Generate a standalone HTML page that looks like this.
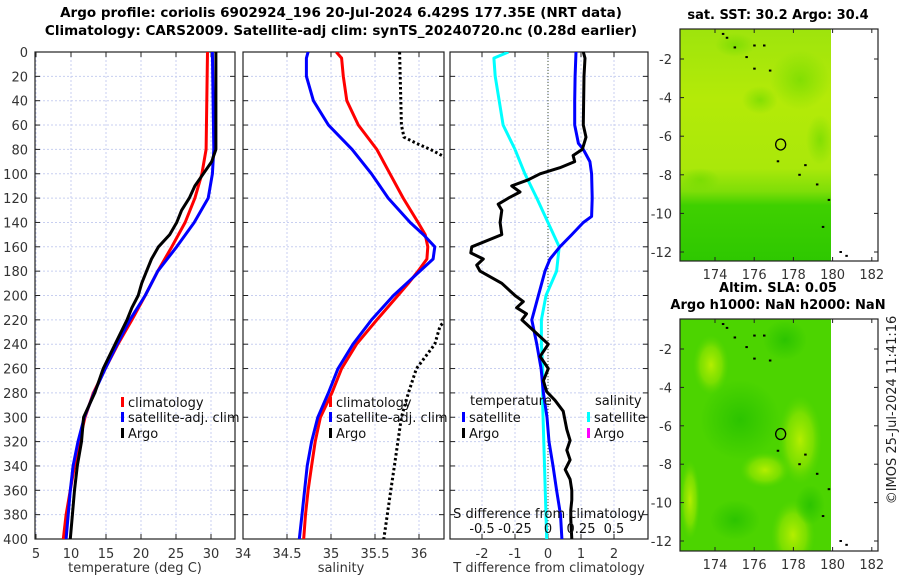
<!DOCTYPE html>
<html><head><meta charset="utf-8"><style>
body{margin:0;background:#fff}
svg{display:block;font-family:"DejaVu Sans","Liberation Sans",sans-serif}
</style></head><body>
<svg id="c" width="900" height="580" viewBox="0 0 900 580">
<defs>
<clipPath id="cp1"><rect x="35" y="52" width="200" height="487"/></clipPath>
<clipPath id="cp2"><rect x="243" y="52" width="201" height="487"/></clipPath>
<clipPath id="cp3"><rect x="450" y="52" width="198" height="487"/></clipPath>
<clipPath id="cm1"><rect x="680" y="29" width="151" height="232"/></clipPath>
<clipPath id="cm2"><rect x="680" y="319" width="151" height="232"/></clipPath>
<linearGradient id="sstg" x1="0" y1="0" x2="0" y2="1">
<stop offset="0" stop-color="#9ee40c"/><stop offset="0.3" stop-color="#b4ea08"/><stop offset="0.6" stop-color="#aae80a"/><stop offset="0.7" stop-color="#7ede08"/><stop offset="0.76" stop-color="#3fd000"/><stop offset="1" stop-color="#2ec800"/>
</linearGradient>
<radialGradient id="blob"><stop offset="0" stop-color="#b4ee00"/><stop offset="0.6" stop-color="#86e200" stop-opacity="0.8"/><stop offset="1" stop-color="#5ad800" stop-opacity="0"/></radialGradient>
<radialGradient id="blobd"><stop offset="0" stop-color="#2cc400"/><stop offset="1" stop-color="#2cc400" stop-opacity="0"/></radialGradient>
<radialGradient id="blobg"><stop offset="0" stop-color="#70da00" stop-opacity="0.7"/><stop offset="1" stop-color="#70da00" stop-opacity="0"/></radialGradient>
</defs>
<text x="341" y="17" text-anchor="middle" font-size="13.5" font-weight="bold">Argo profile: coriolis 6902924_196 20-Jul-2024 6.429S 177.35E (NRT data)</text>
<text x="341" y="35" text-anchor="middle" font-size="13.5" font-weight="bold">Climatology: CARS2009. Satellite-adj clim: synTS_20240720.nc (0.28d earlier)</text>
<g id="g"></g>
</svg>
<script>
// ---- data ----
const depthT = [0,80,100,120,140,160,180,200,220,240,260,280,300,320,340,360,380,400];
const tempClim = [29.5,29.3,28.7,27.7,26.3,24.4,22.4,20.6,18.7,16.7,14.9,13.2,12.0,11.2,10.5,9.9,9.3,8.9];
const tempSat = [30.2,30.4,30.2,29.6,27.6,25.1,22.4,20.6,18.4,16.6,14.9,13.3,11.9,11.0,10.3,9.9,9.6,9.3];
const depthArgoT = [0,80,90,100,110,120,130,140,150,160,170,180,190,200,210,220,240,260,280,300,320,340,360,380,400];
const tempArgo = [30.7,30.7,30.1,28.9,27.7,26.9,25.8,25.1,24.1,22.5,21.5,20.8,20.1,19.6,18.7,18.0,16.3,14.6,13.4,11.8,11.5,10.9,10.5,10.2,9.9];
const depthS = [0,5,20,40,60,80,100,120,140,150,160,170,180,190,200,220,240,260,280,300,320,340,360,380,400];
const salClim = [35.06,35.12,35.14,35.18,35.31,35.52,35.67,35.82,35.99,36.07,36.10,36.09,35.99,35.88,35.76,35.52,35.29,35.12,35.01,34.88,34.82,34.78,34.74,34.71,34.69];
const salSat = [34.74,34.72,34.72,34.80,34.97,35.24,35.46,35.65,35.90,36.05,36.18,36.16,36.01,35.86,35.71,35.46,35.25,35.08,34.97,34.85,34.78,34.73,34.70,34.67,34.64];
const depthArgoS = [0,60,70,75,80,85,100,200,225,240,260,280,300,320,340,360,380,400];
const salArgo = [35.78,35.80,35.83,35.97,36.13,36.26,36.6,36.6,36.24,36.18,35.97,35.88,35.80,35.76,35.72,35.68,35.64,35.60];
const depthDT = [0,20,40,60,75,80,90,100,120,135,140,150,160,170,180,200,220,240,260,280,300,320,340,360,380,400];
const dTsat = [0.85,0.82,0.81,0.81,0.92,1.07,1.27,1.32,1.34,1.32,1.07,0.72,0.36,0.06,-0.09,-0.29,-0.49,-0.34,-0.21,-0.14,-0.03,0.03,0.15,0.26,0.38,0.42];
const depthDTA = [0,5,20,60,70,80,85,90,95,100,105,110,115,120,125,130,140,150,160,165,170,175,180,190,200,205,210,215,220,230,240,250,260,270,279,286,295,310,319,327,335,343,351,360,368,376,384,400];
const dTargo = [1.07,1.12,1.09,1.07,1.15,1.04,0.76,0.81,0.36,-0.24,-0.6,-1.10,-0.85,-1.2,-1.51,-1.40,-1.45,-1.4,-2.31,-2.34,-1.96,-2.16,-2.06,-1.40,-1.0,-0.75,-0.95,-0.65,-0.79,-0.39,0.01,-0.24,0.01,-0.14,-0.04,0.21,0.46,0.57,0.67,0.57,0.67,0.52,0.67,0.72,0.72,0.69,0.69,0.72];
const depthDS = [0,5,20,40,60,80,100,120,140,160,180,200,220,240,260,290,400];
const dSsat = [-0.30,-0.41,-0.40,-0.37,-0.34,-0.25,-0.175,-0.085,0.0,0.085,0.065,-0.015,-0.05,-0.05,-0.04,-0.04,-0.01];
const depthTicks = [0,20,40,60,80,100,120,140,160,180,200,220,240,260,280,300,320,340,360,380,400];
const p1Ticks = [5,10,15,20,25,30];
const p2Ticks = [34,34.5,35,35.5,36];
const p3Ticks = [-2,-1,0,1,2];
const sTicks = [-0.5,-0.25,0,0.25,0.5];
const sTickLabels = ['-0.5','-0.25','0','0.25','0.5'];
const lonTicks = [174,176,178,180,182];
const latTicks = [-2,-4,-6,-8,-10,-12];
const argoLon = 177.35, argoLat = -6.429;
const coast = [[174.4,-0.7],[174.6,-0.9],[175.0,-1.4],[175.6,-1.9],[176.0,-1.3],[176.5,-1.3],[176.0,-2.5],[176.8,-2.6],[177.2,-7.3],[178.6,-7.5],[178.3,-8.0],[179.2,-8.5],[179.8,-9.3],[179.5,-10.7],[180.4,-12.0],[180.7,-12.2]];

// ---- scales ----
const yS = d => 52 + d*1.2175;
const x1 = v => 36 + (v-5)*7.0;
const x2 = v => 243 + (v-34)*88;
const x3 = v => 548 + v*33;
const xS = v => x3(v*4);
const lonS = v => 715 + (v-174)*19.6;
const lat1 = v => 59 + (-2-v)*19.3;
const lat2 = v => 349 + (-2-v)*19.2;

const NS='http://www.w3.org/2000/svg';
const G=document.getElementById('g');
function mk(tag,attrs,parent){const e=document.createElementNS(NS,tag);for(const k in attrs)e.setAttribute(k,attrs[k]);(parent||G).appendChild(e);return e;}
function txt(x,y,s,attrs,parent){const e=mk('text',Object.assign({x:x,y:y,'font-size':13},attrs||{}),parent);e.textContent=s;return e;}

function panel(name,L,R,xs,ticks,labels){
  const g=mk('g',{});
  
  
  ticks.forEach(t=>mk('line',{x1:xs(t),x2:xs(t),y1:52,y2:539,stroke:'#c8cff0','stroke-width':1,'stroke-dasharray':'2,2'},g));
  depthTicks.forEach(d=>mk('line',{x1:L,x2:R,y1:yS(d),y2:yS(d),stroke:'#c8cff0','stroke-width':1,'stroke-dasharray':'2,2'},g));
  ticks.forEach((t,i)=>{
    mk('line',{x1:xs(t),x2:xs(t),y1:539,y2:534,stroke:'#222'},g);
    mk('line',{x1:xs(t),x2:xs(t),y1:52,y2:57,stroke:'#222'},g);
    if(labels){const e=txt(xs(t),558,labels[i],{'text-anchor':'middle',fill:'#333'},g);
      
      }
  });
  depthTicks.forEach(d=>{
    mk('line',{x1:L,x2:L+5,y1:yS(d),y2:yS(d),stroke:'#222'},g);
    mk('line',{x1:R,x2:R-5,y1:yS(d),y2:yS(d),stroke:'#222'},g);
  });
  mk('rect',{x:L,y:52,width:R-L,height:487,fill:'none',stroke:'#222','stroke-width':1.2},g);
  return g;
}
function line(name,xs,vals,deps,color,clip,extra){
  const pts=vals.map((v,i)=>xs(v).toFixed(1)+','+yS(deps[i]).toFixed(1)).join(' ');
  const e=mk('polyline',Object.assign({points:pts,fill:'none',stroke:color,'stroke-width':3,'stroke-linejoin':'round','clip-path':'url(#'+clip+')'},extra||{}));
  
  
  return e;
}
function legend(x,y,color,label,name){
  const g=mk('g',{});
  
  
  mk('rect',{x:x,y:y-10,width:3,height:10,fill:color},g);
  txt(x+7,y,label,{fill:'#111'},g);
}

depthTicks.forEach(d=>{const e=txt(28,yS(d)+5,String(d),{'text-anchor':'end',fill:'#333'});
  
  });

panel('temperature-panel',35,235,x1,p1Ticks,p1Ticks.map(String));
line('temp-climatology-line',x1,tempClim,depthT,'#ff0000','cp1');
line('temp-satellite-line',x1,tempSat,depthT,'#0000ff','cp1');
line('temp-argo-line',x1,tempArgo,depthArgoT,'#000','cp1');
legend(121,407,'#f00','climatology','legend-climatology-temp');
legend(121,422,'#00f','satellite-adj. clim','legend-satellite-temp');
legend(121,438,'#000','Argo','legend-argo-temp');
txt(135,572,'temperature (deg C)',{'text-anchor':'middle',fill:'#333',});

panel('salinity-panel',243,444,x2,p2Ticks,p2Ticks.map(String));
line('sal-climatology-line',x2,salClim,depthS,'#ff0000','cp2');
line('sal-satellite-line',x2,salSat,depthS,'#0000ff','cp2');
line('sal-argo-line',x2,salArgo,depthArgoS,'#000','cp2',{'stroke-dasharray':'2.5,2.5'});
legend(329,407,'#f00','climatology','legend-climatology-sal');
legend(329,422,'#00f','satellite-adj. clim','legend-satellite-sal');
legend(329,438,'#000','Argo','legend-argo-sal');
txt(341,572,'salinity',{'text-anchor':'middle',fill:'#333',});

panel('difference-panel',450,648,x3,p3Ticks,p3Ticks.map(String));
mk('line',{x1:x3(0),x2:x3(0),y1:52,y2:539,stroke:'#445533','stroke-width':1,'stroke-dasharray':'1,2'});
line('sal-diff-satellite-line',xS,dSsat,depthDS,'#00ffff','cp3');
line('temp-diff-satellite-line',x3,dTsat,depthDT,'#0000ff','cp3');
line('temp-diff-argo-line',x3,dTargo,depthDTA,'#000','cp3');
txt(470,405,'temperature',{fill:'#111'});
legend(462,422,'#00f','satellite','legend-temp-diff-satellite');
legend(462,438,'#000','Argo','legend-temp-diff-argo');
txt(595,405,'salinity',{fill:'#111'});
legend(587,422,'#00ffff','satellite','legend-sal-diff-satellite');
legend(587,438,'#ff00ff','Argo','legend-sal-diff-argo');
txt(549,518,'S difference from climatology',{'text-anchor':'middle',fill:'#111',});
sTicks.forEach((s,i)=>txt(xS(s),533,sTickLabels[i],{'text-anchor':'middle',fill:'#111'}));
txt(549,572,'T difference from climatology',{'text-anchor':'middle',fill:'#333',});

function map(name,top,latS,title1,title2,fillFn){
  const g=mk('g',{});
  
  
  fillFn(g);
  coast.forEach(c=>mk('rect',{x:lonS(c[0])-1,y:latS(c[1])-1,width:2.5,height:2,fill:'#000'},g));
  mk('ellipse',{cx:lonS(argoLon),cy:latS(argoLat),rx:5,ry:5.5,fill:'none',stroke:'#000','stroke-width':1.3},g);
  mk('rect',{x:680,y:top,width:198,height:232,fill:'none',stroke:'#222','stroke-width':1.2},g);
  lonTicks.forEach(l=>{mk('line',{x1:lonS(l),x2:lonS(l),y1:top+232,y2:top+228,stroke:'#222'},g);
    mk('line',{x1:lonS(l),x2:lonS(l),y1:top,y2:top+4,stroke:'#222'},g);
    txt(lonS(l),top+250,String(l),{'text-anchor':'middle',fill:'#333'},g);});
  latTicks.forEach(l=>{mk('line',{x1:680,x2:684,y1:latS(l),y2:latS(l),stroke:'#222'},g);
    mk('line',{x1:878,x2:874,y1:latS(l),y2:latS(l),stroke:'#222'},g);
    txt(672,latS(l)+5,String(l),{'text-anchor':'end',fill:'#333'},g);});
  if(title2) txt(778,top-10,title2,{'text-anchor':'middle','font-weight':'bold'},g);
  txt(778,top-(title2?27:10),title1,{'text-anchor':'middle','font-weight':'bold'},g);
}
map('sst-map',29,lat1,'sat. SST: 30.2  Argo: 30.4',null,g=>{
  mk('rect',{x:680,y:29,width:151,height:232,fill:'url(#sstg)'},g);
  [[800,80,30,30],[760,100,18,14],[700,180,20,12],[820,140,14,25],[735,45,20,12]].forEach(b=>mk('ellipse',{cx:b[0],cy:b[1],rx:b[2],ry:b[3],fill:'url(#blobg)','clip-path':'url(#cm1)'},g));
},'cm1');
map('sla-map',319,lat2,'Altim. SLA: 0.05','Argo h1000: NaN h2000: NaN',g=>{
  mk('rect',{x:680,y:319,width:151,height:232,fill:'#4cd400'},g);
  [[711,365,18,30],[800,440,22,45],[793,535,22,35],[765,470,25,18],[690,500,10,40]].forEach(b=>mk('ellipse',{cx:b[0],cy:b[1],rx:b[2],ry:b[3],fill:'url(#blob)','clip-path':'url(#cm2)'},g));
  [[785,340,22,20],[740,420,40,40],[735,520,25,20],[810,505,15,20]].forEach(b=>mk('ellipse',{cx:b[0],cy:b[1],rx:b[2],ry:b[3],fill:'url(#blobd)','clip-path':'url(#cm2)'},g));
});
const cr=txt(0,0,'©IMOS 25-Jul-2024 11:41:16',{'text-anchor':'middle',fill:'#222',transform:'translate(896,410) rotate(-90)'});


</script>
</body></html>
